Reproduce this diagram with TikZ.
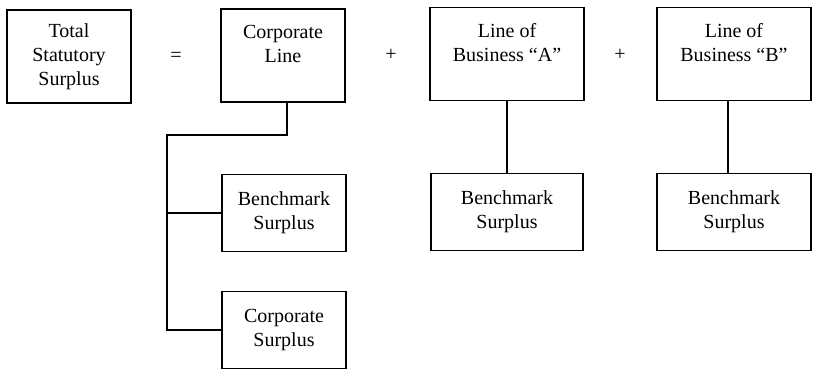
\documentclass[tikz,border=0pt]{standalone}
\usepackage{fontspec}
\setmainfont{Liberation Serif}
\usetikzlibrary{positioning, calc}

\begin{document}
\begin{tikzpicture}[x=1pt, y=-1pt, line width=1.5pt,
    font=\fontsize{20}{24}\selectfont,
    box/.style={draw, rectangle, align=center, inner sep=0pt},
    topbox/.style={box, minimum height=93pt},
    lowbox/.style={box, minimum height=77pt}]
    \useasboundingbox (0,0) rectangle (814,369);

    % top row
    \node[topbox, minimum width=124pt] at (69, 56.5) (total) {Total\\Statutory\\Surplus};
    \node at (176, 57) (eq) {=};
    \node[topbox, minimum width=124pt] at (283, 55.5) (corpline) {Corporate\\Line\\\mbox{}};
    \node at (391, 55) (plus1) {+};
    \node[topbox, minimum width=154pt] at (507, 54) (lobA) {Line of\\Business ``A''\\\mbox{}};
    \node at (620, 55) (plus2) {+};
    \node[topbox, minimum width=154pt] at (734, 54) (lobB) {Line of\\Business ``B''\\\mbox{}};

    % lower boxes
    \node[lowbox, minimum width=124pt] at (284, 213) (bench1) {Benchmark\\Surplus};
    \node[lowbox, minimum width=124pt] at (284, 330) (corpsurplus) {Corporate\\Surplus};
    \node[lowbox, minimum width=152pt] at (507, 212) (bench2) {Benchmark\\Surplus};
    \node[lowbox, minimum width=154pt] at (734, 212) (bench3) {Benchmark\\Surplus};

    % connectors
    \coordinate (bend) at (167, 135);
    \draw ([xshift=4pt]corpline.south) |- (bend) |- (corpsurplus.west);
    \draw (bend |- bench1.west) -- (bench1.west);
    \draw (lobA.south) -- (bench2.north);
    \draw ([xshift=-6pt]lobB.south) -- ([xshift=-6pt]bench3.north);
\end{tikzpicture}
\end{document}
